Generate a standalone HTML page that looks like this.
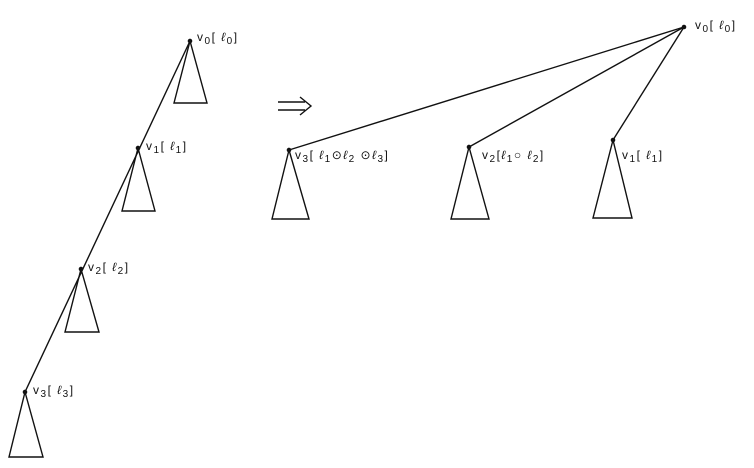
<!DOCTYPE html>
<html><head><meta charset="utf-8"><style>
html,body{margin:0;padding:0;background:#fff}
svg text{font-family:"Liberation Sans",sans-serif;font-size:12px;letter-spacing:1.5px;fill:#111}
</style></head><body>
<svg width="754" height="463" viewBox="0 0 754 463" stroke="#111" fill="none" stroke-width="1.4">
<g>
<line x1="190" y1="41" x2="25" y2="392"/>
<polygon points="190,41 174,103 207,103"/>
<polygon points="138,148 122,211 155,211"/>
<polygon points="81,269 65,332 99,332"/>
<polygon points="25,392 9,457 43,457"/>
<g fill="#111" stroke="none">
<circle cx="190" cy="41" r="2.3"/><circle cx="138" cy="148" r="2.3"/><circle cx="81" cy="269" r="2.3"/><circle cx="25" cy="392" r="2.3"/>
</g>
<g stroke="none">
<text x="197" y="41">v<tspan dy="3" font-size="10">0</tspan><tspan dy="-3">[ </tspan><tspan font-style="italic">ℓ</tspan><tspan dy="3" font-size="10">0</tspan><tspan dy="-3">]</tspan></text>
<text x="146" y="150">v<tspan dy="3" font-size="10">1</tspan><tspan dy="-3">[ </tspan><tspan font-style="italic">ℓ</tspan><tspan dy="3" font-size="10">1</tspan><tspan dy="-3">]</tspan></text>
<text x="88" y="271">v<tspan dy="3" font-size="10">2</tspan><tspan dy="-3">[ </tspan><tspan font-style="italic">ℓ</tspan><tspan dy="3" font-size="10">2</tspan><tspan dy="-3">]</tspan></text>
<text x="33" y="394">v<tspan dy="3" font-size="10">3</tspan><tspan dy="-3">[ </tspan><tspan font-style="italic">ℓ</tspan><tspan dy="3" font-size="10">3</tspan><tspan dy="-3">]</tspan></text>
</g>
</g>
<g>
<line x1="278" y1="102" x2="305" y2="102"/>
<line x1="278" y1="110" x2="305" y2="110"/>
<polyline points="300,97 311,106 300,115"/>
</g>
<g>
<line x1="684" y1="27" x2="289" y2="150"/>
<line x1="684" y1="27" x2="469" y2="147"/>
<line x1="684" y1="27" x2="613" y2="140"/>
<polygon points="289,150 272,219 309,219"/>
<polygon points="469,147 451,219 489,219"/>
<polygon points="613,140 593,218 632,218"/>
<g fill="#111" stroke="none">
<circle cx="684" cy="27" r="2.3"/><circle cx="289" cy="150" r="2.3"/><circle cx="469" cy="147" r="2.3"/><circle cx="613" cy="140" r="2.3"/>
</g>
<g stroke="none">
<text x="695" y="29">v<tspan dy="3" font-size="10">0</tspan><tspan dy="-3">[ </tspan><tspan font-style="italic">ℓ</tspan><tspan dy="3" font-size="10">0</tspan><tspan dy="-3">]</tspan></text>
<text x="295" y="159">v<tspan dy="3" font-size="10">3</tspan><tspan dy="-3">[ </tspan><tspan font-style="italic">ℓ</tspan><tspan dy="3" font-size="10">1</tspan><tspan dy="-3">⊙</tspan><tspan font-style="italic">ℓ</tspan><tspan dy="3" font-size="10">2</tspan><tspan dy="-3"> ⊙</tspan><tspan font-style="italic">ℓ</tspan><tspan dy="3" font-size="10">3</tspan><tspan dy="-3">]</tspan></text>
<text x="482" y="159">v<tspan dy="3" font-size="10">2</tspan><tspan dy="-3">[</tspan><tspan font-style="italic">ℓ</tspan><tspan dy="3" font-size="10">1</tspan><tspan dy="-3">○ </tspan><tspan font-style="italic">ℓ</tspan><tspan dy="3" font-size="10">2</tspan><tspan dy="-3">]</tspan></text>
<text x="622" y="159">v<tspan dy="3" font-size="10">1</tspan><tspan dy="-3">[ </tspan><tspan font-style="italic">ℓ</tspan><tspan dy="3" font-size="10">1</tspan><tspan dy="-3">]</tspan></text>
</g>
</g>
</svg>
</body></html>
